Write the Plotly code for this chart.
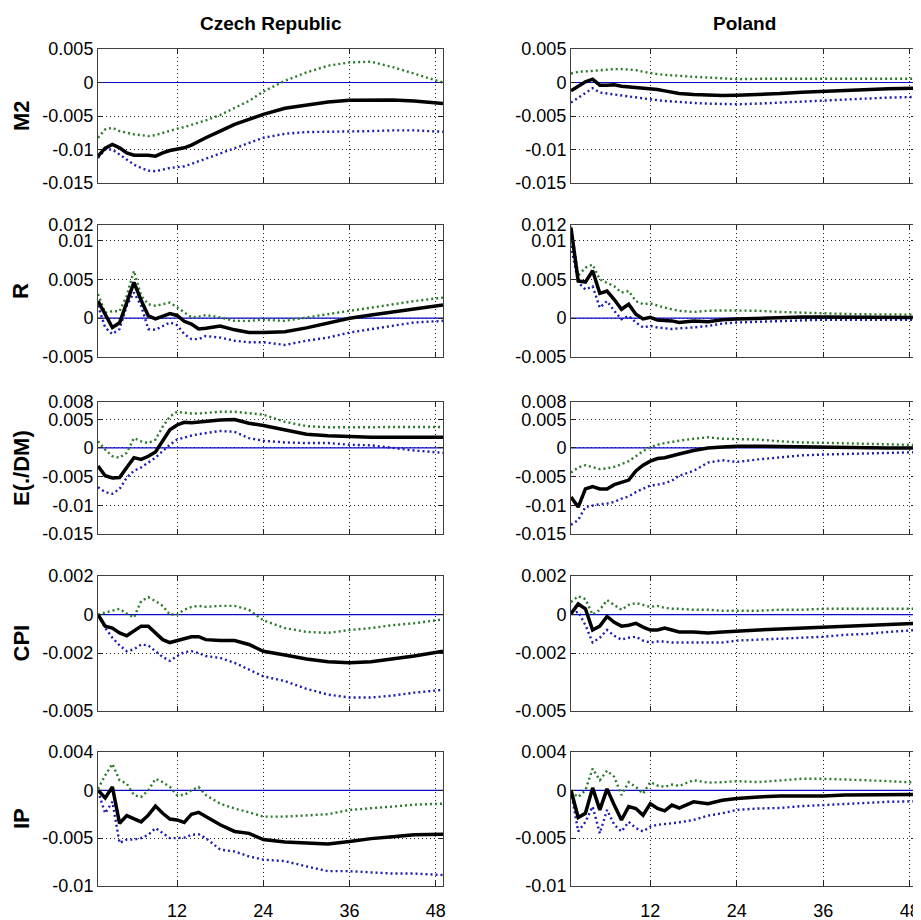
import numpy as np
import plotly.graph_objects as go

# Horizon (months) at which responses are read
horizon = [1, 2, 3, 4, 5, 6, 7, 8, 9, 10, 11, 12, 13, 14, 15, 16,
           18, 20, 22, 24, 27, 30, 33, 36, 39, 42, 45, 49]
x_range = [1, 49]

# Values in thousandths (x 0.001)
cz_m2_mid = [-11.0, -9.8, -9.25, -9.75, -10.5, -10.85, -10.85, -10.85, -11.0, -10.5, -10.15, -10.0, -9.75, -9.35, -8.75, -8.25,
             -7.25, -6.25, -5.5, -4.75, -3.85, -3.35, -2.9, -2.65, -2.6, -2.6, -2.75, -3.15]
cz_m2_up = [-8.25, -7.0, -6.75, -7.25, -7.5, -7.75, -7.85, -8.0, -7.85, -7.5, -7.15, -6.9, -6.65, -6.35, -6.0, -5.65,
            -4.85, -3.85, -2.75, -1.35, 0.25, 1.5, 2.5, 3.0, 3.1, 2.3, 1.3, 0.0]
cz_m2_lo = [-11.25, -10.0, -10.0, -10.75, -11.5, -12.25, -12.75, -13.15, -13.25, -13.0, -12.75, -12.65, -12.5, -12.15, -11.75, -11.35,
            -10.65, -9.75, -9.0, -8.25, -7.65, -7.4, -7.35, -7.35, -7.25, -7.15, -7.15, -7.35]

pl_m2_mid = [-1.25, -0.5, 0.1, 0.5, -0.4, -0.4, -0.35, -0.55, -0.65, -0.75, -0.85, -0.9, -1.05, -1.25, -1.45, -1.65,
             -1.8, -1.9, -1.95, -1.9, -1.8, -1.65, -1.45, -1.3, -1.15, -1.05, -0.95, -0.85]
pl_m2_up = [1.35, 1.6, 1.65, 1.75, 1.9, 2.0, 2.0, 2.0, 1.95, 1.85, 1.6, 1.4, 1.25, 1.15, 1.05, 1.0,
            0.85, 0.75, 0.6, 0.5, 0.55, 0.55, 0.55, 0.55, 0.55, 0.55, 0.55, 0.55]
pl_m2_lo = [-3.0, -2.25, -1.5, -0.85, -1.5, -1.65, -1.75, -1.9, -2.15, -2.25, -2.35, -2.5, -2.65, -2.75, -2.85, -2.95,
            -3.05, -3.15, -3.25, -3.25, -3.15, -3.0, -2.75, -2.65, -2.55, -2.4, -2.25, -2.15]

cz_r_mid = [2.2, 0.5, -1.2, -0.6, 2.0, 4.6, 2.3, 0.3, -0.1, 0.3, 0.6, 0.35, -0.4, -0.75, -1.4, -1.3,
            -1.0, -1.5, -1.85, -1.85, -1.75, -1.25, -0.65, 0.0, 0.4, 0.8, 1.25, 1.7]
cz_r_up = [3.1, 0.7, 0.9, 0.9, 2.9, 6.1, 2.9, 1.8, 1.6, 1.8, 2.0, 1.4, 0.7, 0.1, 0.2, 0.4,
           0.1, -0.35, -0.35, -0.2, -0.35, 0.1, 0.5, 0.95, 1.35, 1.8, 2.2, 2.65]
cz_r_lo = [1.6, -1.2, -2.05, -1.4, 1.6, 3.3, 1.6, -1.4, -1.5, -1.0, -0.55, -0.9, -2.05, -2.7, -2.7, -2.3,
           -2.5, -2.9, -3.1, -3.1, -3.45, -2.9, -2.5, -1.85, -1.4, -1.0, -0.55, -0.35]

pl_r_mid = [11.6, 4.8, 4.65, 6.1, 3.2, 3.5, 2.4, 1.15, 1.8, 0.5, -0.1, 0.1, -0.25, -0.25, -0.35, -0.55,
            -0.35, -0.45, -0.2, -0.1, 0.0, 0.15, 0.15, 0.15, 0.15, 0.1, 0.1, 0.1]
pl_r_up = [11.8, 5.5, 6.5, 6.9, 5.0, 4.6, 4.1, 3.3, 3.5, 2.2, 1.8, 1.9, 1.6, 1.35, 1.15, 0.95,
           0.8, 0.95, 1.0, 1.0, 0.95, 0.8, 0.7, 0.65, 0.55, 0.5, 0.45, 0.45]
pl_r_lo = [9.3, 4.6, 3.7, 4.1, 1.35, 2.2, 0.95, -0.15, 0.3, -0.55, -1.2, -1.0, -1.2, -1.3, -1.4, -1.3,
           -1.2, -1.0, -0.7, -0.55, -0.45, -0.35, -0.3, -0.2, -0.2, -0.2, -0.2, -0.2]

cz_e_mid = [-3.15, -4.85, -5.25, -5.15, -3.4, -1.7, -2.0, -1.45, -0.7, 1.15, 3.15, 4.0, 4.45, 4.4, 4.55, 4.6,
            4.85, 4.95, 4.3, 3.9, 3.15, 2.4, 2.1, 1.9, 1.85, 1.85, 1.85, 1.85]
cz_e_up = [1.15, -0.3, -1.45, -1.7, -0.85, 1.7, 1.15, 0.85, 1.45, 3.7, 5.45, 6.3, 6.15, 6.0, 6.0, 6.1,
           6.3, 6.3, 6.0, 5.8, 4.55, 3.8, 3.6, 3.55, 3.6, 3.65, 3.65, 3.65]
cz_e_lo = [-6.85, -7.7, -8.0, -7.15, -5.15, -4.0, -3.4, -2.55, -1.7, -0.55, 0.55, 1.45, 1.85, 2.15, 2.4, 2.55,
           2.95, 2.8, 1.7, 1.25, 0.95, 0.85, 0.85, 0.55, 0.45, 0.0, -0.45, -0.85]

pl_e_mid = [-8.55, -10.3, -7.15, -6.75, -7.15, -7.15, -6.4, -6.0, -5.6, -4.0, -3.0, -2.3, -1.85, -1.7, -1.45, -1.05,
            -0.45, 0.0, 0.15, 0.3, 0.3, 0.25, 0.1, 0.05, 0.0, 0.0, 0.0, 0.0]
pl_e_up = [-4.3, -3.4, -3.0, -3.4, -3.7, -3.55, -3.3, -2.85, -2.3, -1.45, -0.55, 0.1, 0.55, 0.85, 1.0, 1.25,
           1.6, 1.85, 1.6, 1.55, 1.45, 1.15, 0.95, 0.9, 0.8, 0.75, 0.65, 0.5]
pl_e_lo = [-13.4, -12.55, -10.3, -10.0, -9.8, -9.7, -9.4, -8.85, -8.45, -7.7, -7.15, -6.55, -6.4, -6.15, -5.7, -4.85,
           -4.0, -2.55, -2.15, -2.45, -2.0, -1.6, -1.3, -1.15, -1.05, -1.0, -0.9, -0.75]

cz_cpi_mid = [0.0, -0.6, -0.7, -0.95, -1.1, -0.85, -0.6, -0.6, -0.95, -1.3, -1.45, -1.35, -1.25, -1.15, -1.15, -1.3,
              -1.35, -1.35, -1.55, -1.9, -2.1, -2.3, -2.45, -2.5, -2.45, -2.3, -2.15, -1.9]
cz_cpi_up = [0.0, 0.1, 0.2, 0.3, 0.05, -0.15, 0.7, 0.9, 0.7, 0.45, 0.0, 0.0, 0.25, 0.4, 0.45, 0.4,
             0.45, 0.45, 0.25, -0.3, -0.7, -0.9, -0.95, -0.8, -0.7, -0.55, -0.45, -0.25]
cz_cpi_lo = [-0.05, -0.7, -1.2, -1.6, -1.9, -1.8, -1.55, -1.6, -1.9, -2.2, -2.4, -2.15, -1.95, -1.9, -2.0, -2.15,
             -2.25, -2.5, -2.85, -3.2, -3.45, -3.85, -4.15, -4.3, -4.3, -4.2, -4.05, -3.9]

pl_cpi_mid = [0.05, 0.55, 0.3, -0.8, -0.6, -0.1, -0.4, -0.6, -0.55, -0.45, -0.65, -0.8, -0.8, -0.7, -0.8, -0.9,
              -0.9, -0.95, -0.9, -0.85, -0.8, -0.75, -0.7, -0.65, -0.6, -0.55, -0.5, -0.45]
pl_cpi_up = [0.65, 0.95, 0.8, 0.0, 0.25, 0.75, 0.5, 0.25, 0.5, 0.6, 0.5, 0.4, 0.45, 0.35, 0.3, 0.3,
             0.25, 0.25, 0.2, 0.2, 0.2, 0.25, 0.25, 0.3, 0.3, 0.3, 0.3, 0.3]
pl_cpi_lo = [0.05, 0.15, -0.55, -1.45, -1.2, -0.8, -1.1, -1.3, -1.2, -1.15, -1.35, -1.45, -1.4, -1.4, -1.45, -1.45,
             -1.45, -1.45, -1.45, -1.35, -1.3, -1.25, -1.2, -1.15, -1.05, -1.0, -0.9, -0.8]

cz_ip_mid = [0.0, -0.8, 0.35, -3.45, -2.65, -2.95, -3.3, -2.6, -1.65, -2.4, -3.0, -3.1, -3.35, -2.5, -2.3, -2.75,
             -3.6, -4.3, -4.5, -5.15, -5.4, -5.5, -5.6, -5.35, -5.05, -4.85, -4.65, -4.6]
cz_ip_up = [0.15, 1.55, 2.75, 1.05, 0.7, -0.5, -0.7, 0.0, 1.2, 0.85, 0.35, -0.5, -0.5, 0.0, 0.35, -0.5,
            -1.4, -1.9, -2.3, -2.75, -2.75, -2.65, -2.5, -2.05, -1.9, -1.7, -1.5, -1.4]
cz_ip_lo = [-0.1, -2.4, -1.2, -5.5, -5.15, -5.15, -5.0, -4.65, -3.95, -4.5, -5.0, -5.0, -4.95, -4.65, -4.6, -5.0,
            -6.2, -6.4, -6.9, -7.25, -7.4, -7.95, -8.45, -8.45, -8.6, -8.7, -8.7, -8.85]

pl_ip_mid = [0.0, -2.85, -2.4, 0.25, -2.05, 0.15, -1.55, -3.1, -1.7, -1.9, -2.6, -1.4, -1.9, -2.15, -1.55, -1.85,
             -1.2, -1.4, -1.05, -0.85, -0.7, -0.6, -0.6, -0.6, -0.5, -0.5, -0.5, -0.45]
pl_ip_up = [-0.15, -0.7, 0.0, 2.25, 1.05, 2.05, 1.4, -0.5, 0.85, 0.35, -0.35, 0.85, 0.5, 0.35, 0.6, 0.45,
            1.05, 0.8, 0.85, 0.95, 0.85, 1.05, 1.2, 1.2, 1.15, 1.05, 0.95, 0.8]
pl_ip_lo = [-0.15, -4.3, -3.3, -1.7, -4.5, -2.05, -3.6, -4.3, -3.3, -3.95, -4.3, -3.8, -3.6, -3.55, -3.45, -3.35,
            -3.1, -2.65, -2.4, -2.05, -1.9, -1.85, -1.65, -1.55, -1.45, -1.3, -1.2, -1.15]

countries = ["Czech Republic", "Poland"]
variables = ["M2", "R", "E(./DM)", "CPI", "IP"]

y_ranges = [[-0.015, 0.005], [-0.005, 0.012], [-0.015, 0.008], [-0.005, 0.002], [-0.01, 0.004]]
y_tickvals = [[-0.015, -0.01, -0.005, 0, 0.005],
              [-0.005, 0, 0.005, 0.01, 0.012],
              [-0.015, -0.01, -0.005, 0, 0.005, 0.008],
              [-0.005, -0.002, 0, 0.002],
              [-0.01, -0.005, 0, 0.004]]
y_ticktext = [["-0.015", "-0.01", "-0.005", "0", "0.005"],
              ["-0.005", "0", "0.005", "0.01", "0.012"],
              ["-0.015", "-0.01", "-0.005", "0", "0.005", "0.008"],
              ["-0.005", "-0.002", "0", "0.002"],
              ["-0.01", "-0.005", "0", "0.004"]]
x_tickvals = [12, 24, 36, 48]
x_ticktext = ["12", "24", "36", "48"]

panels = [
    [(cz_m2_mid, cz_m2_up, cz_m2_lo), (pl_m2_mid, pl_m2_up, pl_m2_lo)],
    [(cz_r_mid, cz_r_up, cz_r_lo), (pl_r_mid, pl_r_up, pl_r_lo)],
    [(cz_e_mid, cz_e_up, cz_e_lo), (pl_e_mid, pl_e_up, pl_e_lo)],
    [(cz_cpi_mid, cz_cpi_up, cz_cpi_lo), (pl_cpi_mid, pl_cpi_up, pl_cpi_lo)],
    [(cz_ip_mid, cz_ip_up, cz_ip_lo), (pl_ip_mid, pl_ip_up, pl_ip_lo)],
]

# The page body has an 8px default margin: size the figure so that it fills
# the 921x920 window after that offset, and place everything in window pixels.
OFF = 8
W, H = 921 - OFF, 920 - OFF
col_px = [(98, 443), (571, 917)]
row_px = [(49, 183), (225, 357), (402, 534), (576, 711), (752, 886)]


def fx(p):
    return (p - OFF) / W


def fy(p):
    return 1 - (p - OFF) / H


FONT = "Liberation Sans, Arial, sans-serif"
GREEN = "#2a7a2a"
BLUE = "#1c1cb0"
ZERO = "#0a0ac8"

fig = go.Figure()
layout = dict(
    template="none",
    width=W, height=H, margin=dict(l=0, r=0, t=0, b=0, autoexpand=False),
    paper_bgcolor="white", plot_bgcolor="white", showlegend=False,
    font=dict(family=FONT, color="black", size=18),
)

scale = 1e-3
for r in range(5):
    for c in range(2):
        n = r * 2 + c + 1
        xa = "x" if n == 1 else f"x{n}"
        ya = "y" if n == 1 else f"y{n}"
        mid, up, lo = panels[r][c]
        # zero reference line across the axis range
        fig.add_trace(go.Scatter(
            x=x_range, y=[0, 0], mode="lines", line=dict(color=ZERO, width=1.2),
            xaxis=xa, yaxis=ya, hoverinfo="skip"))
        for vals, color, dash, width in [(up, GREEN, "2px,3px", 2.4), (lo, BLUE, "2px,3px", 2.4), (mid, "black", "solid", 3.5)]:
            fig.add_trace(go.Scatter(
                x=horizon, y=np.array(vals) * scale, mode="lines",
                line=dict(color=color, dash=dash, width=width),
                xaxis=xa, yaxis=ya, hoverinfo="skip"))
        x0, x1 = col_px[c]
        t0, b0 = row_px[r]
        common = dict(showline=True, linecolor="#404040", linewidth=1, mirror="ticks",
                      ticks="inside", ticklen=5, tickcolor="#202020",
                      showgrid=True, gridcolor="#202020", gridwidth=1, griddash="1px,3px",
                      zeroline=False, automargin=False,
                      tickfont=dict(family=FONT, size=18, color="black"))
        layout["xaxis" if n == 1 else f"xaxis{n}"] = dict(
            domain=[fx(x0), fx(x1)], anchor=ya, range=x_range,
            tickvals=x_tickvals, ticktext=x_ticktext, showticklabels=(r == 4),
            ticklabelstandoff=8, **common)
        layout["yaxis" if n == 1 else f"yaxis{n}"] = dict(
            domain=[fy(b0), fy(t0)], anchor=xa, range=y_ranges[r],
            tickvals=y_tickvals[r], ticktext=y_ticktext[r], **common)

annotations = []
for c, name in enumerate(countries):
    x0, x1 = col_px[c]
    annotations.append(dict(text=f"<b>{name}</b>", x=fx((x0 + x1) / 2), y=fy(23),
                            xref="paper", yref="paper", showarrow=False,
                            font=dict(family=FONT, size=19, color="black"),
                            xanchor="center", yanchor="middle"))
for r, name in enumerate(variables):
    t0, b0 = row_px[r]
    annotations.append(dict(text=f"<b>{name}</b>", x=fx(21), y=fy((t0 + b0) / 2),
                            xref="paper", yref="paper", showarrow=False, textangle=-90,
                            font=dict(family=FONT, size=22, color="black"),
                            xanchor="center", yanchor="middle"))
layout["annotations"] = annotations

fig.update_layout(**layout)
fig.write_html("out.html")
